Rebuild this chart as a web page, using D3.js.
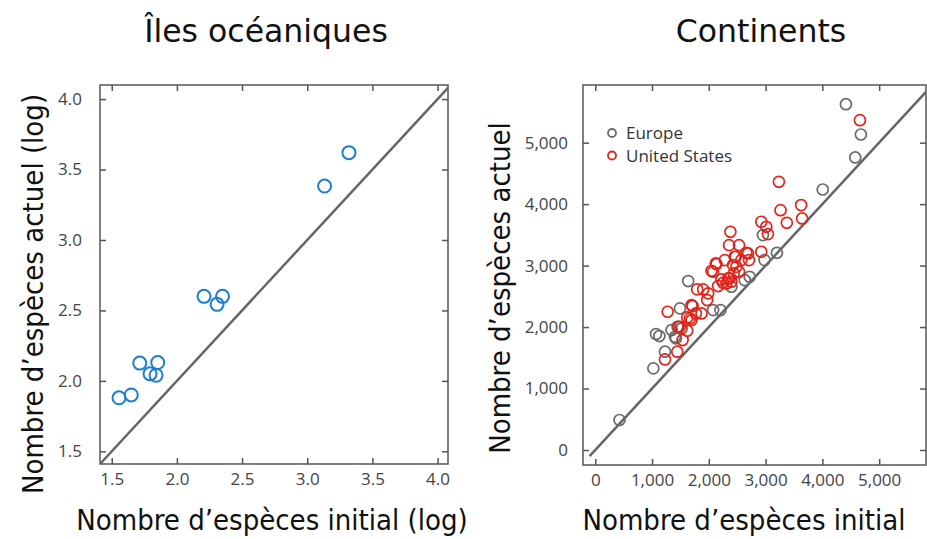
<!DOCTYPE html>
<html lang="fr">
  <head>
    <meta charset="utf-8">
    <title>Îles océaniques / Continents</title>
    <script src="https://d3js.org/d3.v7.min.js"></script>
    <style>
      body { margin: 0; background: #fff; }
      .tick-label { font-family: "Open Sans", sans-serif; font-size: 17px; fill: #444; }
      .title { font-family: "DejaVu Sans", Verdana, sans-serif; fill: #111; }
      .axis-title { font-family: "DejaVu Sans Condensed", "DejaVu Sans", sans-serif; font-stretch: condensed; fill: #111; }
    </style>
  </head>
  <body>
    <script type="text/javascript">

      var w = 927;
      var h = 539;

      // left panel: islands (log values)
      var islandInitial = [1.556, 1.65, 1.715, 1.794, 1.84, 1.853, 2.208, 2.308, 2.35, 3.133, 3.32];
      var islandActual  = [1.88, 1.90, 2.126, 2.05, 2.04, 2.13, 2.60, 2.543, 2.60, 3.383, 3.62];
      var islandTicks = [1.5, 2.0, 2.5, 3.0, 3.5, 4.0];

      // right panel: continents
      var europeInitial = [427, 1023, 1070, 1129, 1228, 1345, 1421, 1491, 1491, 1637, 2076, 2205, 2398, 2632, 2719, 2953, 2982, 3199, 4006, 4415, 4579, 4678, 1450, 1404];
      var europeActual  = [488, 1328, 1886, 1854, 1599, 1951, 1816, 2304, 2005, 2748, 2276, 2276, 2656, 2764, 2818, 3496, 3089, 3208, 4238, 5626, 4759, 5133, 2005, 1842];

      var usInitial = [1228, 1275, 1444, 1462, 1538, 1620, 1620, 1696, 1714, 1772, 1871, 1795, 1900, 1988, 1971, 2076, 2135, 2164, 2222, 2251,
                       2281, 2339, 2357, 2380, 2398, 2439, 2456, 2485, 2532, 2573, 2690, 2708, 2924, 2924, 3012, 3041, 3234, 3263, 3374, 3626,
                       3643, 4661, 1520, 1696, 1667, 2047, 2123, 2310, 2368, 2532, 2661, 2474, 2427];
      var usActual  = [1474, 2249, 1599, 2005, 1789, 1940, 2157, 2114, 2341, 2222, 2222, 2613, 2613, 2548, 2439, 2900, 3024, 2667, 2775, 2721,
                       3089, 2792, 3333, 3550, 2737, 2873, 3144, 2981, 3333, 3089, 3198, 3089, 3713, 3225, 3631, 3512, 4363, 3902, 3696, 3984,
                       3767, 5366, 1979, 2358, 2141, 2916, 3035, 2710, 2792, 2900, 3208, 3144, 3008];
      var contTicks = [0, 1000, 2000, 3000, 4000, 5000];

      var svg = d3.select("body")
        .append("svg")
        .attr("width", w)
        .attr("height", h);

      function panel(opt) {
        var x = d3.scaleLinear().domain(opt.xDomain).range([opt.left, opt.right]);
        var y = d3.scaleLinear().domain(opt.yDomain).range([opt.bottom, opt.top]);
        var g = svg.append("g");

        g.append("clipPath").attr("id", opt.id)
          .append("rect")
          .attr("x", opt.left).attr("y", opt.top)
          .attr("width", opt.right - opt.left).attr("height", opt.bottom - opt.top);

        // inward ticks on all four sides
        var fmt = opt.fmt;
        g.append("g").attr("transform", "translate(0," + opt.bottom + ")")
          .call(d3.axisBottom(x).tickValues(opt.ticks).tickSizeInner(-6).tickSizeOuter(0).tickFormat(fmt).tickPadding(9));
        g.append("g").attr("transform", "translate(0," + opt.top + ")")
          .call(d3.axisTop(x).tickValues(opt.ticks).tickSizeInner(-6).tickSizeOuter(0).tickFormat(""));
        g.append("g").attr("transform", "translate(" + opt.left + ",0)")
          .call(d3.axisLeft(y).tickValues(opt.ticks).tickSizeInner(-6).tickSizeOuter(0).tickFormat(fmt).tickPadding(opt.yPad));
        g.append("g").attr("transform", "translate(" + opt.right + ",0)")
          .call(d3.axisRight(y).tickValues(opt.ticks).tickSizeInner(-6).tickSizeOuter(0).tickFormat(""));

        g.selectAll(".domain").remove();
        g.selectAll(".tick line").attr("stroke", "#555").attr("stroke-width", 1.5);
        g.selectAll(".tick text").attr("class", "tick-label").attr("fill", null)
          .attr("font-family", null).attr("font-size", null);

        g.append("rect")
          .attr("x", opt.left).attr("y", opt.top)
          .attr("width", opt.right - opt.left).attr("height", opt.bottom - opt.top)
          .attr("fill", "none").attr("stroke", "#555").attr("stroke-width", 1.5);

        // 1:1 line
        g.append("line")
          .attr("clip-path", "url(#" + opt.id + ")")
          .attr("x1", x(opt.lineFrom)).attr("y1", y(opt.lineFrom))
          .attr("x2", x(opt.lineTo)).attr("y2", y(opt.lineTo))
          .attr("stroke", "#666").attr("stroke-width", 2.5);

        opt.series.forEach(function(s) {
          g.append("g").selectAll("circle")
            .data(d3.zip(s.xs, s.ys))
            .enter().append("circle")
            .attr("cx", d => x(d[0]))
            .attr("cy", d => y(d[1]))
            .attr("r", opt.r)
            .attr("fill", "none")
            .attr("stroke", s.color)
            .attr("stroke-width", opt.sw);
        });

        svg.append("text").attr("class", "title")
          .attr("x", opt.titleX).attr("y", 42)
          .attr("text-anchor", "middle").attr("font-size", 31.5)
          .text(opt.title);
        svg.append("text").attr("class", "axis-title")
          .attr("x", opt.xLabelX).attr("y", 530)
          .attr("text-anchor", "middle").attr("font-size", 29)
          .text(opt.xLabel);
        svg.append("text").attr("class", "axis-title")
          .attr("transform", "translate(" + opt.yLabelX + "," + opt.yLabelY + ") rotate(-90)")
          .attr("text-anchor", "middle").attr("font-size", 29)
          .text(opt.yLabel);

        return {x: x, y: y, g: g};
      }

      panel({
        id: "clipL", left: 100, right: 448, top: 85, bottom: 464, yPad: 18,
        xDomain: [1.41, 4.08], yDomain: [1.41, 4.10],
        ticks: islandTicks, fmt: d3.format(".1f"),
        lineFrom: 1.3, lineTo: 4.3, r: 6.5, sw: 2,
        series: [{xs: islandInitial, ys: islandActual, color: "#1a7fcf"}],
        title: "Îles océaniques", titleX: 266,
        xLabel: "Nombre d’espèces initial (log)", xLabelX: 272,
        yLabel: "Nombre d’espèces actuel (log)", yLabelX: 43, yLabelY: 294
      });

      panel({
        id: "clipR", left: 583, right: 926, top: 85, bottom: 465, yPad: 15,
        xDomain: [-216, 5825], yDomain: [-244, 5938],
        ticks: contTicks, fmt: d3.format(","),
        lineFrom: -100, lineTo: 6500, r: 5.5, sw: 1.7,
        series: [{xs: europeInitial, ys: europeActual, color: "#6a6a6a"},
                 {xs: usInitial, ys: usActual, color: "#e2231a"}],
        title: "Continents", titleX: 761,
        xLabel: "Nombre d’espèces initial", xLabelX: 744,
        yLabel: "Nombre d’espèces actuel", yLabelX: 510, yLabelY: 288
      });

      // legend
      var legendItems = [{name: "Europe", color: "#6a6a6a"}, {name: "United States", color: "#e2231a"}];
      var lg = svg.append("g").selectAll("g").data(legendItems).enter().append("g")
        .attr("transform", (d, i) => "translate(612," + (133 + i * 22.5) + ")");
      lg.append("circle").attr("r", 4).attr("fill", "none").attr("stroke", d => d.color).attr("stroke-width", 1.8);
      lg.append("text").attr("x", 14).attr("y", 6)
        .attr("font-family", "'Open Sans', sans-serif").attr("font-size", 17).attr("fill", "#333")
        .text(d => d.name);

    </script>
  </body>
</html>
